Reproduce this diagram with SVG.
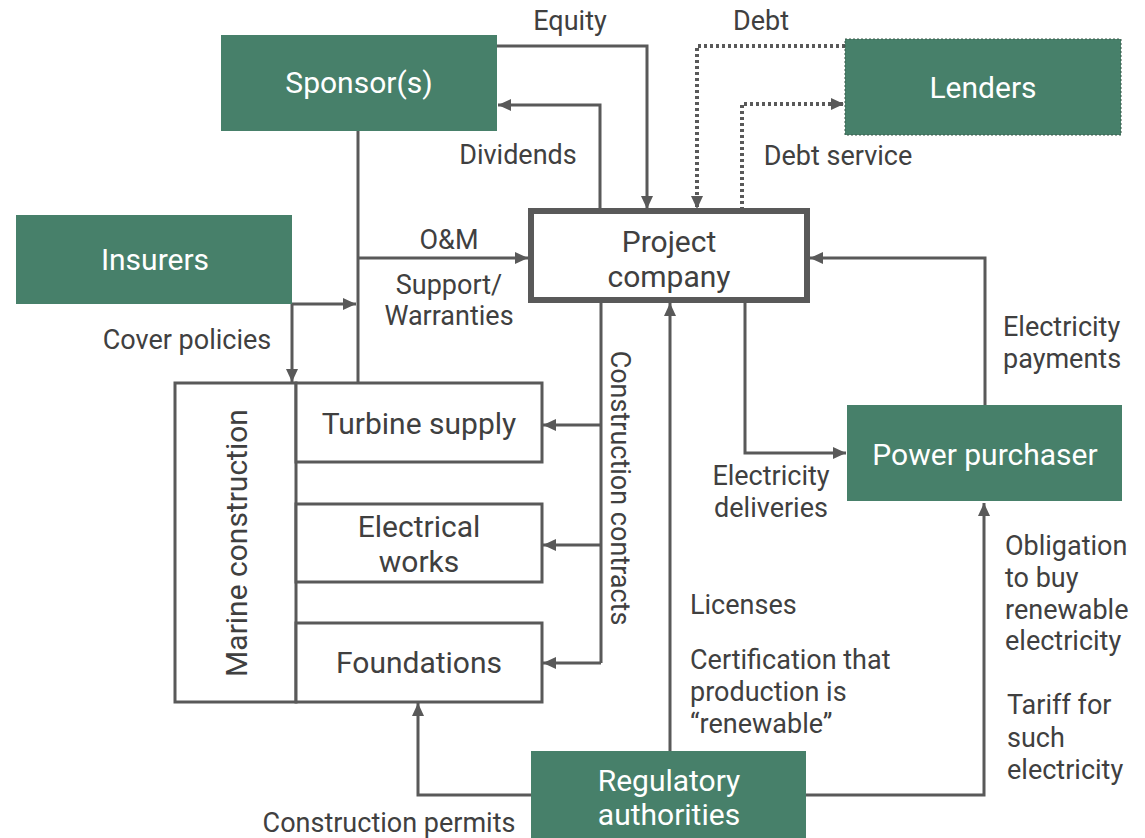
<svg xmlns="http://www.w3.org/2000/svg" width="1145" height="838" viewBox="0 0 1145 838">
<defs>
<marker id="ah" markerUnits="userSpaceOnUse" markerWidth="14" markerHeight="14" viewBox="0 0 14 14" refX="13" refY="7" orient="auto">
<path d="M0,1 L13,7 L0,13 Z" fill="#595959"/>
</marker>
</defs>
<style>
.g{fill:#47806a}
.nt{font-family:Roboto,"Liberation Sans",sans-serif;font-size:30px;fill:#ffffff;text-anchor:middle}
.bt{font-family:Roboto,"Liberation Sans",sans-serif;font-size:30px;fill:#404040;text-anchor:middle}
.lb{font-family:Roboto,"Liberation Sans",sans-serif;font-size:27px;fill:#404040}
.c{text-anchor:middle}
.box{fill:#ffffff;stroke:#595959;stroke-width:3}
.ln{fill:none;stroke:#595959;stroke-width:3}
.ar{marker-end:url(#ah)}
.dt{stroke-width:4;stroke-dasharray:3 3}
</style>
<rect width="1145" height="838" fill="#ffffff"/>
<g id="connectors">
<path class="ln ar" d="M497,46 H647 V209"/>
<path class="ln ar" d="M600,210 V105 H498"/>
<path class="ln dt ar" d="M845,46 H697 V209"/>
<path class="ln dt ar" d="M742,210 V104 H844"/>
<path class="ln" d="M358,131 V383"/>
<path class="ln ar" d="M358,258 H528"/>
<path class="ln ar" d="M292,304 H356"/>
<path class="ln ar" d="M292,304 V382"/>
<path class="ln" d="M601,302 V663"/>
<path class="ln ar" d="M601,425 H543"/>
<path class="ln ar" d="M601,545 H543"/>
<path class="ln ar" d="M601,663 H543"/>
<path class="ln ar" d="M670,751 V303"/>
<path class="ln ar" d="M531,795 H418 V703"/>
<path class="ln ar" d="M806,795 H984 V503"/>
<path class="ln ar" d="M745,302 V453 H846"/>
<path class="ln ar" d="M985,405 V258 H810"/>
</g>
<g id="sponsors"><rect class="g" x="221" y="35" width="276" height="96"/><text class="nt" x="359" y="93">Sponsor(s)</text></g>
<g id="lenders"><rect class="g" x="845" y="39" width="276" height="96" stroke="#3a5a4a" stroke-width="1" stroke-dasharray="2 2"/><text class="nt" x="983" y="98">Lenders</text></g>
<g id="insurers"><rect class="g" x="16" y="215" width="276" height="89"/><text class="nt" x="155" y="270">Insurers</text></g>
<g id="project"><rect x="531" y="211" width="276" height="89" fill="#ffffff" stroke="#595959" stroke-width="6"/><text class="bt" x="669" y="252">Project</text><text class="bt" x="669" y="287">company</text></g>
<g id="power"><rect class="g" x="847" y="405" width="275" height="96"/><text class="nt" x="985" y="465">Power purchaser</text></g>
<g id="regulatory"><rect class="g" x="531" y="751" width="275" height="90"/><text class="nt" x="669" y="791">Regulatory</text><text class="nt" x="669" y="825">authorities</text></g>
<g id="marine"><rect class="box" x="175" y="383" width="121" height="319"/><text class="bt" transform="translate(236,543) rotate(-90)" y="11">Marine construction</text></g>
<g id="turbine"><rect class="box" x="296" y="383" width="246" height="79"/><text class="bt" x="419" y="434">Turbine supply</text></g>
<g id="electrical"><rect class="box" x="296" y="504" width="246" height="78"/><text class="bt" x="419" y="537">Electrical</text><text class="bt" x="419" y="572">works</text></g>
<g id="foundations"><rect class="box" x="296" y="623" width="246" height="79"/><text class="bt" x="419" y="673">Foundations</text></g>
<g id="labels">
<text class="lb c" x="570" y="30">Equity</text>
<text class="lb c" x="761" y="30">Debt</text>
<text class="lb c" x="518" y="164">Dividends</text>
<text class="lb c" x="838" y="165">Debt service</text>
<text class="lb c" x="449" y="249">O&amp;M</text>
<text class="lb c" x="449" y="294">Support/</text>
<text class="lb c" x="449" y="325">Warranties</text>
<text class="lb c" x="187" y="349">Cover policies</text>
<text class="lb" x="1003" y="336">Electricity</text>
<text class="lb" x="1003" y="368">payments</text>
<text class="lb c" x="771" y="485">Electricity</text>
<text class="lb c" x="771" y="517">deliveries</text>
<text class="lb" font-size="28" transform="translate(621,488) rotate(90)" text-anchor="middle" y="10">Construction contracts</text>
<text class="lb" x="690" y="614">Licenses</text>
<text class="lb" x="690" y="669">Certification that</text>
<text class="lb" x="690" y="701">production is</text>
<text class="lb" x="690" y="733">“renewable”</text>
<text class="lb" x="1005" y="555">Obligation</text>
<text class="lb" x="1005" y="587">to buy</text>
<text class="lb" x="1005" y="619">renewable</text>
<text class="lb" x="1005" y="650">electricity</text>
<text class="lb" x="1007" y="714">Tariff for</text>
<text class="lb" x="1007" y="747">such</text>
<text class="lb" x="1007" y="779">electricity</text>
<text class="lb c" x="389" y="832">Construction permits</text>
</g>
</svg>
